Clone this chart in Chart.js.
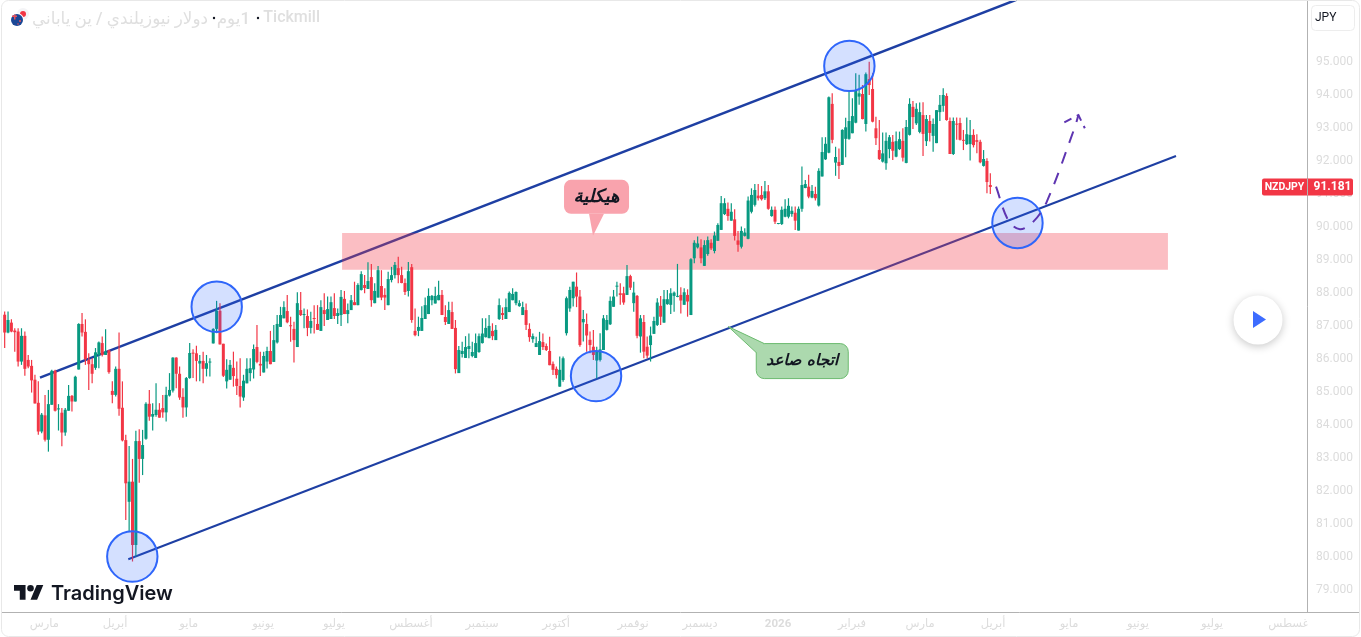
<!DOCTYPE html>
<html lang="ar">
<head>
<meta charset="utf-8">
<title>NZDJPY</title>
<script src="https://cdn.jsdelivr.net/npm/chart.js@4/dist/chart.umd.min.js"></script>
<style>html,body{margin:0;padding:0;background:#fff;overflow:hidden}canvas{display:block}</style>
</head>
<body>
<canvas id="c" width="1361" height="637"></canvas>
<script>
const opens=[87.31,86.77,87.07,86.83,86.80,85.89,86.67,85.94,85.76,85.34,
84.64,83.77,84.26,83.52,84.58,85.61,84.44,84.34,83.74,84.40,
84.85,84.68,85.65,87.03,86.79,85.94,85.81,85.70,86.09,86.45,
86.09,86.23,85.00,84.88,85.67,84.49,83.51,81.64,82.25,80.33,
83.48,82.94,83.55,84.61,84.22,84.27,84.43,84.48,84.35,84.86,
85.01,86.01,85.52,84.82,84.50,85.39,86.15,86.14,85.83,85.91,
85.67,85.86,86.44,86.88,87.43,86.43,85.29,85.34,85.70,85.37,
85.15,84.80,85.23,85.54,85.65,86.33,85.82,85.56,85.89,86.21,
85.88,86.47,86.94,87.20,87.42,86.99,86.88,86.33,87.45,87.30,
87.27,86.91,87.20,87.03,86.82,87.45,87.15,87.18,87.51,87.27,
87.30,87.79,87.33,87.45,87.69,87.60,88.06,88.21,88.09,88.45,
87.66,87.83,88.18,87.91,87.60,88.36,88.51,88.72,88.51,88.27,
88.03,88.75,86.82,86.82,86.82,87.18,87.33,87.75,87.65,87.75,
87.91,87.24,87.03,87.39,86.91,85.54,86.12,86.00,86.27,86.06,
86.00,86.18,86.45,86.63,86.60,86.82,86.54,87.18,87.36,87.18,
87.39,87.75,87.66,87.57,87.30,87.45,86.88,86.57,86.33,86.09,
86.48,86.36,86.21,85.82,85.67,85.13,85.33,86.75,87.50,87.81,
88.16,87.86,87.08,87.03,86.55,86.34,85.92,85.94,86.24,86.85,
87.02,87.55,88.16,87.96,87.96,87.91,88.48,87.66,87.88,86.65,
87.09,86.34,86.39,86.73,87.00,87.58,87.07,87.63,87.61,87.88,
87.85,87.91,87.61,87.91,87.30,89.02,89.35,89.35,88.79,89.15,
89.49,89.24,89.55,89.88,90.36,90.52,90.16,90.20,89.56,89.37,
89.70,89.61,90.43,90.64,90.92,90.94,90.84,91.05,90.30,90.49,
90.06,90.06,90.28,90.28,90.36,90.40,89.86,90.52,91.15,91.19,
90.86,90.97,90.62,91.50,92.02,92.22,93.70,91.92,91.94,91.85,
92.64,92.64,92.81,93.13,93.92,94.00,93.09,94.45,94.15,92.96,
92.30,91.95,91.90,92.33,92.55,92.10,92.33,92.58,91.91,92.76,
93.61,93.11,92.85,93.36,92.57,93.18,92.73,92.51,93.45,93.64,
93.94,93.18,92.18,93.10,93.12,92.61,92.48,92.48,92.76,92.60,
92.55,91.82,91.97,91.24];
const highs=[87.41,87.41,87.17,86.90,86.90,86.90,86.80,86.09,85.94,85.49,
85.29,84.33,84.88,85.03,85.64,85.64,84.60,84.48,84.48,85.18,
84.88,85.46,87.05,87.36,87.17,86.14,85.99,86.30,86.50,86.65,
86.87,86.25,85.29,85.74,86.77,85.29,83.67,83.33,82.94,83.79,
83.84,83.82,84.66,85.03,84.63,85.23,84.63,84.88,85.13,85.54,
86.02,86.02,85.74,85.08,85.42,86.45,86.26,86.37,86.09,86.19,
86.09,85.99,86.90,87.73,87.66,86.43,85.96,85.94,86.19,85.89,
85.99,85.49,85.99,85.99,86.41,87.00,86.19,86.19,86.34,86.82,
87.00,87.30,87.55,87.72,87.91,87.25,87.10,87.99,88.00,87.50,
87.47,87.40,87.60,87.60,87.75,87.96,87.86,87.86,87.96,87.50,
88.06,88.03,87.65,87.91,88.31,88.26,88.63,88.51,88.90,88.85,
88.26,88.79,88.66,88.11,88.61,88.76,88.91,89.07,88.76,88.41,
88.91,88.85,87.50,87.25,87.57,87.83,88.11,87.91,88.16,88.34,
88.06,87.60,87.70,87.70,87.15,86.36,86.49,86.66,86.74,86.49,
86.74,86.74,87.20,87.20,87.30,87.05,87.00,87.80,87.53,87.80,
88.01,88.11,88.01,87.75,87.70,87.65,87.05,86.74,86.64,86.79,
86.74,86.44,86.64,85.89,85.74,86.04,86.04,87.86,88.16,88.31,
88.59,88.06,87.45,87.35,86.80,86.85,86.34,86.75,87.30,87.30,
87.86,88.06,88.31,88.26,88.16,88.82,88.52,88.31,87.91,87.30,
87.30,86.65,86.95,87.25,87.81,87.88,88.06,88.06,88.11,88.01,
88.85,88.14,88.11,88.08,89.02,89.57,89.68,89.60,89.57,89.68,
89.60,89.83,90.08,90.91,90.84,90.71,90.69,90.51,89.85,89.98,
89.93,90.89,91.14,91.27,91.27,91.21,91.36,91.24,90.59,90.59,
90.09,90.59,90.81,90.84,90.59,90.59,90.59,91.80,91.39,91.55,
91.24,91.19,91.75,92.69,92.69,93.92,94.02,92.40,92.35,92.93,
93.28,94.12,93.87,94.63,94.58,94.27,94.65,94.98,94.63,93.31,
93.21,92.83,92.83,92.76,92.76,92.86,92.86,92.96,93.21,93.87,
93.79,93.72,93.74,93.75,93.36,93.36,93.26,93.51,93.97,94.17,
94.02,93.29,93.29,93.29,93.28,92.91,93.29,93.21,92.93,92.78,
92.61,92.30,92.05,91.60];
const lows=[86.30,86.75,86.78,86.19,85.74,85.79,85.46,85.69,84.95,84.62,
83.67,83.72,83.47,83.16,84.58,84.38,83.80,83.32,83.64,84.40,
84.38,84.68,85.65,86.65,85.79,85.03,85.23,85.64,85.69,86.04,
86.09,85.52,84.63,84.83,84.25,83.47,81.09,80.74,79.83,79.98,
82.22,82.45,83.52,84.10,83.80,84.22,84.19,84.19,84.07,84.83,
84.95,85.08,84.73,84.19,84.22,85.37,85.39,85.29,85.29,85.23,
85.44,85.44,86.44,86.75,86.41,85.42,85.07,85.34,85.13,84.88,
84.50,84.70,85.23,85.29,85.38,85.84,85.45,85.56,85.68,85.81,
85.88,86.44,86.94,87.20,87.05,86.49,85.86,86.33,87.27,86.90,
86.66,86.74,86.74,86.85,86.82,86.97,87.15,87.18,87.18,87.03,
86.97,87.33,87.05,87.45,87.60,87.60,88.04,87.96,88.09,87.55,
87.66,87.83,87.75,87.45,87.60,88.29,88.41,88.26,88.26,87.91,
87.86,87.07,86.66,86.66,86.82,87.18,87.33,87.60,87.65,87.75,
87.30,87.00,87.03,86.88,85.53,85.54,86.01,86.00,85.99,86.02,
86.00,86.16,86.44,86.62,86.60,86.54,86.54,87.15,87.15,87.18,
87.39,87.75,87.60,87.55,87.30,86.85,86.49,86.46,86.33,86.09,
86.24,86.21,85.78,85.48,85.38,85.13,85.28,86.68,87.40,87.56,
87.54,86.34,86.50,86.19,86.14,85.94,85.38,85.89,86.24,86.83,
87.00,87.55,87.86,87.61,87.61,87.91,88.06,87.40,86.60,86.16,
85.99,85.99,85.89,86.73,86.97,87.00,87.07,87.61,87.33,87.40,
87.84,87.35,87.61,87.25,87.30,88.87,89.32,88.87,88.79,89.10,
89.27,89.17,89.55,89.88,90.33,90.16,90.16,89.56,89.22,89.32,
89.68,89.60,90.38,90.59,90.77,90.77,90.79,90.49,90.28,90.06,
90.05,90.03,90.26,90.23,90.28,89.88,89.86,90.43,91.14,90.84,
90.84,90.77,90.59,91.50,92.00,92.20,92.51,91.52,91.42,91.85,
92.08,92.61,92.81,93.11,93.67,93.23,92.86,93.97,93.14,92.45,
92.00,91.92,91.70,92.05,92.00,92.08,92.30,91.95,91.90,92.74,
92.94,93.06,92.81,92.12,92.42,92.56,92.25,92.51,93.18,93.46,
93.19,92.18,92.15,92.61,92.59,92.30,92.45,91.98,92.38,92.20,
91.90,91.80,90.99,90.97];
const closes=[86.77,87.15,86.80,86.78,85.89,86.67,85.67,85.74,85.32,84.62,
83.77,84.28,83.52,84.60,85.61,84.40,84.46,83.74,84.43,84.85,
84.68,85.43,87.03,86.77,85.96,85.81,85.52,86.17,86.47,86.09,
86.19,85.57,84.88,85.67,84.46,83.50,82.20,82.25,80.33,83.48,
82.94,83.36,84.61,84.22,84.30,84.43,84.19,84.35,84.88,85.03,
86.01,85.52,84.80,84.50,85.39,86.15,86.13,85.91,85.91,85.67,
85.84,85.88,86.88,87.43,86.41,85.46,85.64,85.79,85.45,85.15,
84.83,85.31,85.67,85.69,86.27,85.88,85.77,86.06,86.21,85.81,
86.54,87.03,87.30,87.54,87.08,86.96,86.54,87.66,87.30,87.33,
86.91,87.12,87.18,86.85,87.54,87.33,87.48,87.69,87.27,87.36,
87.85,87.33,87.45,87.75,87.60,88.21,88.54,88.12,88.33,87.75,
88.03,88.66,87.83,87.83,88.39,88.51,88.82,88.51,88.27,88.00,
88.63,87.15,86.69,86.94,87.21,87.60,87.88,87.88,87.88,87.91,
87.30,87.09,87.45,86.88,85.66,86.24,86.21,86.33,86.36,86.18,
86.45,86.66,86.74,86.91,86.97,86.66,86.85,87.60,87.30,87.54,
87.97,87.94,88.00,87.66,87.54,87.00,86.63,86.66,86.45,86.51,
86.33,86.24,85.78,85.64,85.48,85.64,85.99,87.81,88.06,88.31,
87.86,86.39,87.18,86.68,86.39,86.09,86.19,86.26,87.20,87.15,
87.73,87.86,88.18,87.91,87.68,88.48,88.13,87.98,86.67,87.20,
86.19,86.07,86.68,87.12,87.68,87.25,87.78,87.78,87.96,87.98,
87.88,87.74,87.99,87.71,88.99,89.49,89.47,89.02,89.42,89.57,
89.32,89.71,90.03,90.69,90.69,90.30,90.43,89.70,89.43,89.85,
89.80,90.77,90.94,91.09,90.84,90.81,91.05,90.52,90.49,90.13,
90.08,90.49,90.52,90.61,90.46,90.16,90.52,91.24,91.27,90.89,
91.06,90.84,91.67,92.24,92.49,93.90,92.61,92.09,91.82,92.91,
92.99,93.18,93.33,94.12,94.02,93.24,94.60,94.27,93.16,92.66,
92.03,92.20,92.58,92.69,92.28,92.57,92.63,92.07,93.00,93.70,
93.30,93.55,93.45,92.79,93.24,92.82,93.09,93.51,93.67,93.97,
93.21,92.18,93.18,93.07,92.61,92.58,92.78,92.76,92.45,92.55,
91.93,92.03,91.33,91.18];

const monthLabels=['مارس','أبريل','مايو','يونيو','يوليو','أغسطس','سبتمبر','أكتوبر','نوفمبر','ديسمبر','2026','فبراير','مارس','أبريل','مايو','يونيو','يوليو','أغسطس'];
const monthPositions=[11.8,32.8,54.7,76.8,97.9,120.8,141.9,163.9,186.8,206.7,229.9,251.9,272.1,293.8,316.4,336.9,358.9,382.1];
const priceTicks=[79,80,81,82,83,84,85,86,87,88,89,90,91,92,93,94,95];
const upperTrend=[{x:10.5,y:85.40},{x:301.1,y:96.87}];
const lowerTrend=[{x:36.75,y:79.90},{x:348.2,y:92.12}];
const zoneTop=[{x:100.3,y:89.79},{x:345.8,y:89.79}];
const zoneBottom=[{x:100.3,y:88.67},{x:345.8,y:88.67}];
const touchCircles=[{x:37.94,y:79.98},{x:63.03,y:87.55},{x:175.8,y:85.45},{x:251.1,y:94.85},{x:301.07,y:90.09}];
const projection=[{x:294.7,y:91.19},{x:298.3,y:90.18},{x:301.8,y:89.90},{x:305.8,y:90.13},{x:309.8,y:90.74},{x:317.9,y:92.93},{x:319.2,y:93.36}];
const arrowHead=[{x:315.0,y:93.14},{x:319.2,y:93.36},{x:321.1,y:92.96}];
const lastPrice=91.181;
const symbolName='NZDJPY';
const callouts=[
 {text:'هيكلية',size:18,x:174.9,y:89.70,dx:-29,dy:-56,w:65,h:34,r:7,fill:'#F9A3AD',stroke:null,base:[[-4,-22],[11,-22]]},
 {text:'اتجاه صاعد',size:15.5,x:215.1,y:86.95,dx:28,dy:17,w:92,h:35,r:8,fill:'#ACD9AE',stroke:'#6CBB6F',base:[[36,17],[28,26]]}
];

const UP='#089981',DOWN='#F23645';
const xIdx=opens.map((_,i)=>i);
const barColors=opens.map((o,i)=>closes[i]>=o?UP:DOWN);
const sans='Roboto, "Liberation Sans", "DejaVu Sans", sans-serif';
const noPad=s=>{s.paddingLeft=s.paddingRight=s.paddingTop=s.paddingBottom=0;};

const chrome={
 id:'chrome',
 afterDatasetsDraw(ch){
  const c=ch.ctx,xs=ch.scales.x,ys=ch.scales.y;
  callouts.forEach(k=>{
   const tx=xs.getPixelForValue(k.x),ty=ys.getPixelForValue(k.y);
   const bx=tx+k.dx,by=ty+k.dy;
   c.save();
   c.fillStyle=k.fill;
   c.beginPath();c.roundRect(bx,by,k.w,k.h,k.r);c.fill();
   if(k.stroke){c.strokeStyle=k.stroke;c.lineWidth=1;c.stroke();}
   c.beginPath();c.moveTo(tx,ty);c.lineTo(tx+k.base[0][0],ty+k.base[0][1]);c.lineTo(tx+k.base[1][0],ty+k.base[1][1]);c.closePath();
   c.fillStyle=k.fill;c.fill();
   if(k.stroke){
     c.strokeStyle=k.stroke;c.lineWidth=1;
     c.beginPath();c.moveTo(tx+k.base[0][0],ty+k.base[0][1]);c.lineTo(tx,ty);c.lineTo(tx+k.base[1][0],ty+k.base[1][1]);c.stroke();
   }
   c.fillStyle='#131722';
   c.font='italic bold '+k.size+'px "DejaVu Sans", sans-serif';
   c.textAlign='center';c.textBaseline='middle';c.direction='rtl';
   c.fillText(k.text,bx+k.w/2,by+k.h/2);
   c.restore();
  });
 },
 afterDraw(ch){
  const c=ch.ctx,ys=ch.scales.y;
  c.save();
  c.fillStyle='#fff';c.fillRect(1307.5,613,53,24);
  c.strokeStyle='#B2B2B2';c.lineWidth=1;
  c.beginPath();c.moveTo(1307.5,1);c.lineTo(1307.5,612.5);c.moveTo(2,612.5);c.lineTo(1359,612.5);c.stroke();
  c.strokeStyle='#E8E8E8';
  c.beginPath();c.roundRect(1.5,0.5,1358,636,7);c.stroke();
  c.textBaseline='middle';c.textAlign='right';c.fillStyle='#DFDFDF';
  c.font='500 16px '+sans;
  c.fillText('Tickmill',320,18);
  c.font='500 16.8px '+sans;
  c.direction='rtl';
  c.fillText('1يوم',250,20);
  c.fillText('دولار نيوزيلندي / ين ياباني',208,20);
  c.direction='ltr';
  c.fillStyle='#131722';
  [258,214].forEach(x=>{c.beginPath();c.arc(x,18,1.2,0,7);c.fill();});
  c.fillStyle='#F4F4F6';c.beginPath();c.arc(23,14,6,0,7);c.fill();
  c.fillStyle='#F23645';c.beginPath();c.arc(23,14,3,0,7);c.fill();
  c.fillStyle='#fff';c.beginPath();c.arc(17,20,7,0,7);c.fill();
  c.fillStyle='#1A4796';c.beginPath();c.arc(17,20,6,0,7);c.fill();
  c.fillStyle='#E8505B';c.fillRect(12,15.5,5,1.5);c.fillRect(14,14.5,1.5,5);
  c.beginPath();c.arc(20,21,1,0,7);c.arc(18,24,.8,0,7);c.fill();
  c.fillStyle='#131722';
  c.save();c.translate(14,581.7);c.scale(.825,.825);
  c.fill(new Path2D('M14 22H7V11H0V4h14v18zM28 22h-8l7.5-18h8L28 22z'));
  c.beginPath();c.arc(20,8,4,0,7);c.fill();
  c.restore();
  c.font='600 20px Inter, Roboto, sans-serif';c.textAlign='left';c.textBaseline='alphabetic';
  c.fillText('TradingView',51,600);
  const py=ys.getPixelForValue(lastPrice);
  c.fillStyle='#F23645';
  c.beginPath();c.roundRect(1262,py-8.5,91,17,2);c.fill();
  c.strokeStyle='#B2B2B2';c.beginPath();c.moveTo(1307.5,py-8.5);c.lineTo(1307.5,py+8.5);c.stroke();
  c.fillStyle='#fff';c.textBaseline='middle';c.textAlign='center';
  c.font='bold 10.5px '+sans;c.fillText(symbolName,1284.5,py+.5);
  c.font='bold 12px '+sans;c.fillText(lastPrice.toFixed(3),1332.5,py+.5);
  c.strokeStyle='#EDEDED';c.fillStyle='#fff';
  c.beginPath();c.roundRect(1311.5,5.5,43,25,4);c.fill();c.stroke();
  c.fillStyle='#131722';c.textAlign='left';c.font='12px '+sans;c.fillText('JPY',1315,17.5);
  c.save();c.shadowColor='rgba(0,0,0,.22)';c.shadowBlur=8;c.shadowOffsetY=2;
  c.fillStyle='#fff';c.beginPath();c.arc(1258,320,24.5,0,7);c.fill();c.restore();
  c.fillStyle='#3D6CFF';c.beginPath();c.moveTo(1253,311);c.lineTo(1266,319.5);c.lineTo(1253,328);c.closePath();c.fill();
  c.restore();
 }
};

new Chart(document.getElementById('c'),{
 type:'bar',
 data:{datasets:[
  {type:'line',order:70,data:lowerTrend,borderColor:'#1E3FA3',borderWidth:2,pointRadius:0,fill:false},
  {type:'line',order:70,data:upperTrend,borderColor:'#1E3FA3',borderWidth:2.4,pointRadius:0,fill:false},
  {type:'line',order:60,data:zoneTop,borderWidth:0,pointRadius:0,fill:'+1',backgroundColor:'rgba(242,54,69,0.32)'},
  {type:'line',order:60,data:zoneBottom,borderWidth:0,pointRadius:0,fill:false},
  {type:'bar',order:50,data:xIdx.map(i=>({x:i,y:[lows[i],highs[i]]})),backgroundColor:barColors,barThickness:1.2,grouped:false,inflateAmount:0},
  {type:'bar',order:40,data:xIdx.map(i=>({x:i,y:[opens[i],closes[i]]})),backgroundColor:barColors,barThickness:3,grouped:false,minBarLength:1,inflateAmount:0},
  {type:'scatter',order:30,data:touchCircles,pointRadius:25.2,pointHoverRadius:25.2,pointBackgroundColor:'rgba(41,98,255,0.2)',pointBorderColor:'#2F66FA',pointBorderWidth:2,showLine:false},
  {type:'line',order:20,data:projection,borderColor:'#5E35B1',borderWidth:2,borderDash:[12,10],pointRadius:0,tension:0.35,fill:false},
  {type:'line',order:20,data:arrowHead,borderColor:'#5E35B1',borderWidth:2,borderDash:[8,6],pointRadius:0,fill:false}
 ]},
 options:{
  responsive:false,animation:false,events:[],
  layout:{padding:0,autoPadding:false},
  plugins:{legend:{display:false},tooltip:{enabled:false}},
  scales:{
   x:{type:'linear',offset:false,min:-1.388,max:387.14,
    grid:{display:false,drawTicks:false},border:{display:false},
    afterBuildTicks(s){s.ticks=monthPositions.map(v=>({value:v}));},
    afterFit(s){s.height=25;noPad(s);},
    ticks:{autoSkip:false,maxRotation:0,minRotation:0,padding:5,color:'#DCDCDC',
     font:ctx=>({family:sans,size:11.5,weight:monthLabels[ctx.index]==='2026'?'bold':'normal'}),
     callback:(v,i)=>monthLabels[i]}
   },
   y:{type:'linear',position:'right',min:78.30,max:96.848,
    grid:{display:false,drawTicks:false},border:{display:false},
    afterBuildTicks(s){s.ticks=priceTicks.map(v=>({value:v}));},
    afterFit(s){s.width=54;noPad(s);},
    ticks:{padding:9,labelOffset:1,color:'#DCDCDC',font:{family:sans,size:12},autoSkip:false,callback:v=>v.toFixed(3)}
   }
  }
 },
 plugins:[chrome]
});
</script>
</body>
</html>
